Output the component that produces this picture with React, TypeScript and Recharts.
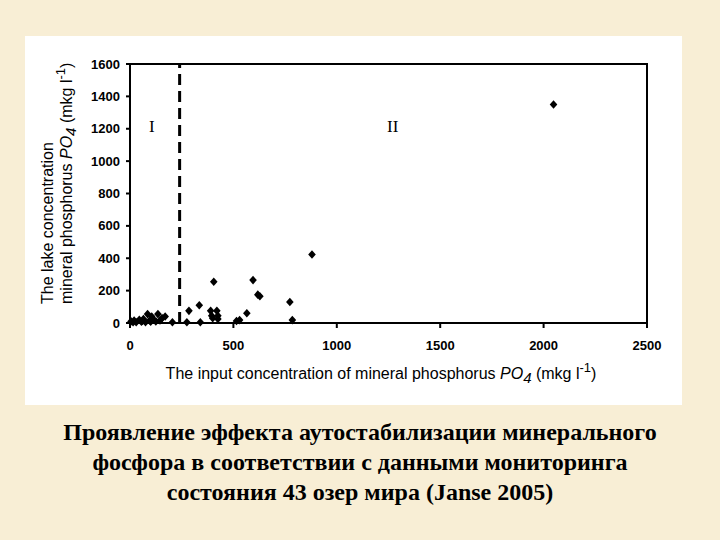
import { ScatterChart, Scatter, XAxis, YAxis, ReferenceLine, ReferenceArea, Label } from "recharts"

// input concentration of mineral PO4 (mkg/l) per lake
const inputPO4 = [
  5, 15, 20, 30, 45, 55, 60, 65, 75, 85, 95, 100, 105, 115, 125, 135, 145, 155, 170, 205,
  275, 285, 335, 340, 390, 395, 400, 405, 420, 425, 425, 515, 530, 565, 595, 618, 628, 773, 785, 880,
  2048,
]
// lake concentration of mineral PO4 (mkg/l)
const lakePO4 = [
  10, 5, 15, 5, 20, 8, 12, 25, 5, 55, 15, 8, 40, 20, 10, 55, 15, 30, 40, 5,
  5, 75, 110, 5, 75, 45, 30, 255, 75, 45, 25, 12, 18, 60, 265, 175, 165, 130, 18, 423,
  1350,
]

const xTicks = [0, 500, 1000, 1500, 2000, 2500]
const yTicks = [0, 200, 400, 600, 800, 1000, 1200, 1400, 1600]
const boundaryInput = 240

const regionNames = ["I", "II"]
const regionInput = [105, 1270]
const regionLake = [1213, 1213]

const caption = [
  "Проявление эффекта аутостабилизации минерального",
  "фосфора в соответствии с данными мониторинга",
  "состояния 43 озер мира (Janse 2005)",
]

const lakes = inputPO4.map((x, i) => ({ x, y: lakePO4[i] }))
const regions = regionNames.map((name, i) => ({ x: regionInput[i], y: regionLake[i], name }))

const sans = "'Liberation Sans', Arial, sans-serif"
const serif = "'Liberation Serif', 'Times New Roman', serif"

const tickStyle = { fontSize: 13, fontWeight: 700, fill: "#000", fontFamily: sans }

function Diamond(props: any) {
  const { cx, cy } = props
  if (cx == null || cy == null) return null
  return <path d={`M${cx},${cy - 4.3} L${cx + 3.8},${cy} L${cx},${cy + 4.3} L${cx - 3.8},${cy} Z`} fill="#000" />
}

function RegionText(props: any) {
  const { cx, cy, payload } = props
  return (
    <text x={cx} y={cy} textAnchor="middle" dominantBaseline="central" fontFamily={serif} fontSize={17} fill="#000">
      {payload.name}
    </text>
  )
}

function YTitle() {
  return (
    <g fontFamily={sans} fontSize={16} fill="#000">
      <text transform="translate(28,268) rotate(-90)">The lake concentration</text>
      <text transform="translate(47,268) rotate(-90)">
        mineral phosphorus <tspan fontStyle="italic">PO</tspan>
        <tspan fontStyle="italic" dy={4} fontSize={15}>4</tspan>
        <tspan dy={-4}> (mkg l</tspan>
        <tspan dy={-7} fontSize={13}>-1</tspan>
        <tspan dy={7}>)</tspan>
      </text>
    </g>
  )
}

function XTitle() {
  return (
    <text x={356} y={343} textAnchor="middle" fontFamily={sans} fontSize={16} fill="#000">
      The input concentration of mineral phosphorus <tspan fontStyle="italic">PO</tspan>
      <tspan fontStyle="italic" dy={4} fontSize={15}>4</tspan>
      <tspan dy={-4}> (mkg l</tspan>
      <tspan dy={-7} fontSize={13}>-1</tspan>
      <tspan dy={7}>)</tspan>
    </text>
  )
}

export default function App() {
  return (
    <div style={{ position: "absolute", left: 0, top: 0, width: 720, height: 540, background: "#f8eed5", overflow: "hidden" }}>
      <div style={{ position: "absolute", left: 25, top: 36, width: 657, height: 369, background: "#fff" }}>
        <ScatterChart width={657} height={369} margin={{ top: 28, right: 35, bottom: 52, left: 45 }}>
          <XAxis
            type="number"
            dataKey="x"
            domain={[0, 2500]}
            ticks={xTicks}
            interval={0}
            height={30}
            axisLine={{ stroke: "#000", strokeWidth: 2 }}
            tickLine={{ stroke: "#000", strokeWidth: 2 }}
            tickSize={5}
            tickMargin={13}
            tick={tickStyle}
          >
            <Label content={() => <XTitle />} />
          </XAxis>
          <YAxis
            type="number"
            dataKey="y"
            domain={[0, 1600]}
            ticks={yTicks}
            interval={0}
            width={60}
            axisLine={{ stroke: "#000", strokeWidth: 2 }}
            tickLine={{ stroke: "#000", strokeWidth: 2 }}
            tickSize={4}
            tickMargin={6}
            tick={tickStyle}
          >
            <Label content={() => <YTitle />} />
          </YAxis>
          <ReferenceArea x1={0} x2={2500} y1={0} y2={1600} fill="none" fillOpacity={0} stroke="#000" strokeWidth={2} />
          <ReferenceLine x={boundaryInput} stroke="#000" strokeWidth={3} strokeDasharray="11 6" />
          <Scatter data={regions} shape={RegionText} isAnimationActive={false} />
          <Scatter data={lakes} shape={Diamond} isAnimationActive={false} />
        </ScatterChart>
      </div>
      <div
        style={{
          position: "absolute",
          left: 0,
          top: 417,
          width: 720,
          textAlign: "center",
          fontFamily: serif,
          fontWeight: 700,
          fontSize: 24,
          lineHeight: "30px",
          color: "#000",
        }}
      >
        {caption.map((line) => (
          <div key={line}>{line}</div>
        ))}
      </div>
    </div>
  )
}
